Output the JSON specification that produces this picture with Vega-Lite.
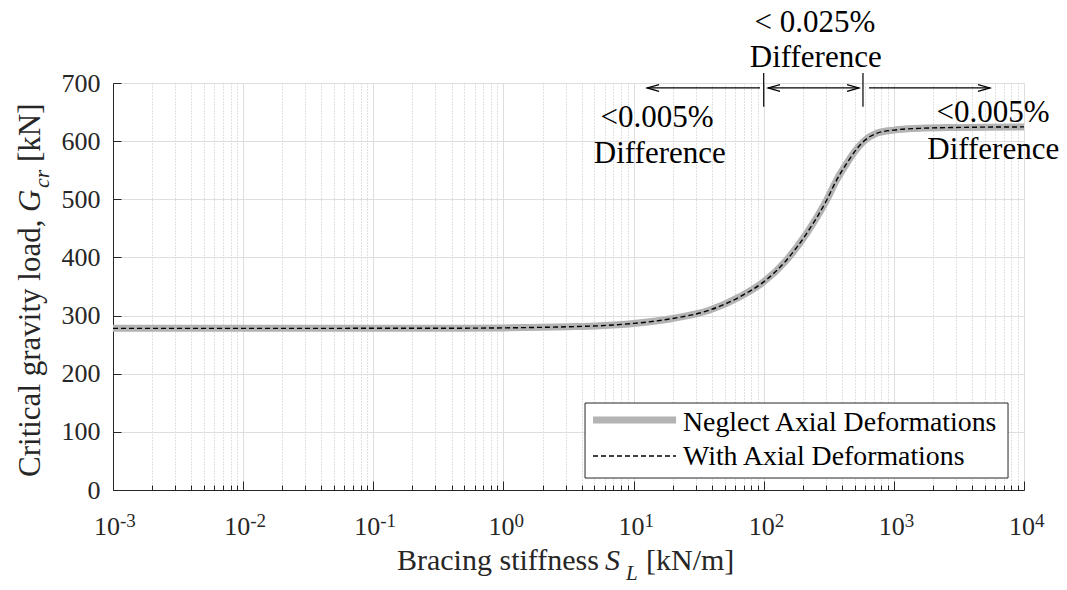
{
  "$schema": "https://vega.github.io/schema/vega-lite/v6.json",
  "width": 911,
  "height": 407,
  "autosize": {"type": "none"},
  "padding": {"left": 113, "top": 83, "right": 43, "bottom": 100},
  "background": "white",
  "config": {"view": {"stroke": null}, "font": "Liberation Serif"},
  "resolve": {"axis": {"x": "independent", "y": "independent"}},
  "layer": [
    {
      "data": {"name": "curve", "values": [
        {"S": 0.001, "neglect": 278, "with": 278},
        {"S": 0.01, "neglect": 278, "with": 278},
        {"S": 0.1, "neglect": 278.1, "with": 278.1},
        {"S": 0.5, "neglect": 278.3, "with": 278.3},
        {"S": 1, "neglect": 278.8, "with": 278.8},
        {"S": 2, "neglect": 279.8, "with": 279.8},
        {"S": 3.2, "neglect": 280.8, "with": 280.8},
        {"S": 5.5, "neglect": 282.5, "with": 282.5},
        {"S": 10, "neglect": 286.5, "with": 286.5},
        {"S": 20, "neglect": 295, "with": 295},
        {"S": 38.6, "neglect": 309.6, "with": 309.6},
        {"S": 65.8, "neglect": 332.5, "with": 332.5},
        {"S": 100, "neglect": 358, "with": 358},
        {"S": 150, "neglect": 395.6, "with": 395.6},
        {"S": 214, "neglect": 441.5, "with": 441.5},
        {"S": 305, "neglect": 498.8, "with": 498.8},
        {"S": 363, "neglect": 533, "with": 533},
        {"S": 435, "neglect": 562, "with": 562},
        {"S": 500, "neglect": 582, "with": 582},
        {"S": 582, "neglect": 599, "with": 599},
        {"S": 738, "neglect": 613.5, "with": 613.5},
        {"S": 1000, "neglect": 619, "with": 619},
        {"S": 1585, "neglect": 622, "with": 622},
        {"S": 3000, "neglect": 623.5, "with": 623.5},
        {"S": 10000, "neglect": 624.5, "with": 624.5}
      ]},
      "mark": {"type": "line", "interpolate": "monotone", "stroke": "#b3b3b3", "strokeWidth": 7},
      "encoding": {
        "x": {"field": "S", "type": "quantitative",
          "scale": {"type": "log", "domain": [0.001, 10000], "nice": false},
          "axis": {"orient": "bottom", "values": [0.002,0.003,0.004,0.005,0.006,0.007,0.008,0.009,0.02,0.03,0.04,0.05,0.06,0.07,0.08,0.09,0.2,0.3,0.4,0.5,0.6,0.7,0.8,0.9,2,3,4,5,6,7,8,9,20,30,40,50,60,70,80,90,200,300,400,500,600,700,800,900,2000,3000,4000,5000,6000,7000,8000,9000],
            "grid": true, "gridColor": "#c2c2c2", "gridDash": [1, 2], "gridWidth": 1,
            "ticks": true, "tickSize": -5, "tickColor": "#262626", "labels": false, "domain": false, "title": null}},
        "y": {"field": "neglect", "type": "quantitative",
          "scale": {"domain": [0, 700], "nice": false, "zero": false},
          "axis": {"orient": "left", "values": [0,100,200,300,400,500,600,700], "format": "d",
            "grid": true, "gridColor": "#dedede", "gridWidth": 1,
            "ticks": true, "tickSize": -8, "tickColor": "#262626", "domain": true, "domainColor": "#262626",
            "labels": true, "labelFont": "Liberation Serif", "labelFontSize": 26, "labelColor": "#262626", "labelPadding": 21, "title": null}}
      }
    },
    {
      "data": {"name": "curve"},
      "mark": {"type": "line", "interpolate": "monotone", "stroke": "#000000", "strokeWidth": 1.4, "strokeDash": [5, 3]},
      "encoding": {
        "x": {"field": "S", "type": "quantitative",
          "scale": {"type": "log", "domain": [0.001, 10000], "nice": false},
          "axis": {"orient": "bottom", "values": [0.001,0.01,0.1,1,10,100,1000,10000],
            "grid": true, "gridColor": "#dedede", "gridWidth": 1,
            "tickSize": -9, "tickColor": "#262626", "labels": false, "domain": true, "domainColor": "#262626", "title": null}},
        "y": {"field": "with", "type": "quantitative", "scale": {"domain": [0, 700], "nice": false, "zero": false}, "axis": null}
      }
    },
    {
      "data": {"values": [
        {"x1": 12.7, "x2": 93.7, "y": 691.5},
        {"x1": 108, "x2": 540, "y": 691.5},
        {"x1": 644, "x2": 5480, "y": 691.5}
      ]},
      "mark": {"type": "rule", "stroke": "#000000", "strokeWidth": 1.2},
      "encoding": {
        "x": {"field": "x1", "type": "quantitative", "scale": {"type": "log", "domain": [0.001, 10000], "nice": false}, "axis": null},
        "x2": {"field": "x2"},
        "y": {"field": "y", "type": "quantitative", "scale": {"domain": [0, 700], "nice": false, "zero": false}, "axis": null}
      }
    },
    {
      "data": {"values": [
        {"x": 100, "y1": 659, "y2": 717},
        {"x": 579, "y1": 659, "y2": 717}
      ]},
      "mark": {"type": "rule", "stroke": "#000000", "strokeWidth": 1.2},
      "encoding": {
        "x": {"field": "x", "type": "quantitative", "scale": {"type": "log", "domain": [0.001, 10000], "nice": false}, "axis": null},
        "y": {"field": "y1", "type": "quantitative", "scale": {"domain": [0, 700], "nice": false, "zero": false}, "axis": null},
        "y2": {"field": "y2"}
      }
    },
    {
      "data": {"values": [
        {"x": 12.7, "y": 691.5, "d": "L"},
        {"x": 108, "y": 691.5, "d": "L"},
        {"x": 540, "y": 691.5, "d": "R"},
        {"x": 5480, "y": 691.5, "d": "R"}
      ]},
      "mark": {"type": "point", "filled": false, "stroke": "#000000", "strokeWidth": 1.2, "size": 576, "opacity": 1},
      "encoding": {
        "x": {"field": "x", "type": "quantitative", "scale": {"type": "log", "domain": [0.001, 10000], "nice": false}, "axis": null},
        "y": {"field": "y", "type": "quantitative", "scale": {"domain": [0, 700], "nice": false, "zero": false}, "axis": null},
        "shape": {"field": "d", "type": "nominal", "scale": {"domain": ["L", "R"], "range": ["M1,-0.28L0,0L1,0.28", "M-1,-0.28L0,0L-1,0.28"]}, "legend": null}
      }
    },
    {
      "data": {"values": [
        {"label": "< 0.025%", "x": 247.7, "y": 787.7},
        {"label": "Difference", "x": 251, "y": 727.5},
        {"label": "<0.005%", "x": 15.14, "y": 624.4},
        {"label": "Difference", "x": 15.9, "y": 562.4},
        {"label": "<0.005%", "x": 5781, "y": 633},
        {"label": "Difference", "x": 5800, "y": 569}
      ]},
      "mark": {"type": "text", "font": "Liberation Serif", "fontSize": 31, "color": "#000000", "align": "center", "baseline": "alphabetic"},
      "encoding": {
        "x": {"field": "x", "type": "quantitative", "scale": {"type": "log", "domain": [0.001, 10000], "nice": false}, "axis": null},
        "y": {"field": "y", "type": "quantitative", "scale": {"domain": [0, 700], "nice": false, "zero": false}, "axis": null},
        "text": {"field": "label"}
      }
    },
    {
      "data": {"values": [{"x1": 4.236, "x2": 7538, "y1": 20.6, "y2": 149.6}]},
      "mark": {"type": "rect", "fill": "#ffffff", "stroke": "#262626", "strokeWidth": 1},
      "encoding": {
        "x": {"field": "x1", "type": "quantitative", "scale": {"type": "log", "domain": [0.001, 10000], "nice": false}, "axis": null},
        "x2": {"field": "x2"},
        "y": {"field": "y1", "type": "quantitative", "scale": {"domain": [0, 700], "nice": false, "zero": false}, "axis": null},
        "y2": {"field": "y2"}
      }
    },
    {
      "data": {"values": [{"x1": 4.88, "x2": 21.2, "y": 120.4}]},
      "mark": {"type": "rule", "stroke": "#b3b3b3", "strokeWidth": 7},
      "encoding": {
        "x": {"field": "x1", "type": "quantitative", "scale": {"type": "log", "domain": [0.001, 10000], "nice": false}, "axis": null},
        "x2": {"field": "x2"},
        "y": {"field": "y", "type": "quantitative", "scale": {"domain": [0, 700], "nice": false, "zero": false}, "axis": null}
      }
    },
    {
      "data": {"values": [{"x1": 4.88, "x2": 21.2, "y": 58.5}]},
      "mark": {"type": "rule", "stroke": "#000000", "strokeWidth": 1.4, "strokeDash": [5, 3]},
      "encoding": {
        "x": {"field": "x1", "type": "quantitative", "scale": {"type": "log", "domain": [0.001, 10000], "nice": false}, "axis": null},
        "x2": {"field": "x2"},
        "y": {"field": "y", "type": "quantitative", "scale": {"domain": [0, 700], "nice": false, "zero": false}, "axis": null}
      }
    },
    {
      "data": {"values": [
        {"label": "Neglect Axial Deformations", "x": 23.99, "y": 101.5},
        {"label": "With Axial Deformations", "x": 23.99, "y": 43}
      ]},
      "mark": {"type": "text", "font": "Liberation Serif", "fontSize": 27.8, "color": "#000000", "align": "left", "baseline": "alphabetic"},
      "encoding": {
        "x": {"field": "x", "type": "quantitative", "scale": {"type": "log", "domain": [0.001, 10000], "nice": false}, "axis": null},
        "y": {"field": "y", "type": "quantitative", "scale": {"domain": [0, 700], "nice": false, "zero": false}, "axis": null},
        "text": {"field": "label"}
      }
    },
    {
      "data": {"values": [
        {"v": 0.001, "base": "10", "e": "-3", "yb": -77.4, "ye": -63.6},
        {"v": 0.01, "base": "10", "e": "-2", "yb": -77.4, "ye": -63.6},
        {"v": 0.1, "base": "10", "e": "-1", "yb": -77.4, "ye": -63.6}
      ]},
      "layer": [
        {
          "mark": {"type": "text", "font": "Liberation Serif", "fontSize": 26, "color": "#262626", "align": "right", "baseline": "alphabetic", "dx": 7},
          "encoding": {
            "x": {"field": "v", "type": "quantitative", "scale": {"type": "log", "domain": [0.001, 10000], "nice": false}, "axis": null},
            "y": {"field": "yb", "type": "quantitative", "scale": {"domain": [0, 700], "nice": false, "zero": false}, "axis": null},
            "text": {"field": "base"}
          }
        },
        {
          "mark": {"type": "text", "font": "Liberation Serif", "fontSize": 19, "color": "#262626", "align": "left", "baseline": "alphabetic", "dx": 7},
          "encoding": {
            "x": {"field": "v", "type": "quantitative", "scale": {"type": "log", "domain": [0.001, 10000], "nice": false}, "axis": null},
            "y": {"field": "ye", "type": "quantitative", "scale": {"domain": [0, 700], "nice": false, "zero": false}, "axis": null},
            "text": {"field": "e"}
          }
        }
      ]
    },
    {
      "data": {"values": [
        {"v": 1, "base": "10", "e": "0", "yb": -77.4, "ye": -63.6},
        {"v": 10, "base": "10", "e": "1", "yb": -77.4, "ye": -63.6},
        {"v": 100, "base": "10", "e": "2", "yb": -77.4, "ye": -63.6},
        {"v": 1000, "base": "10", "e": "3", "yb": -77.4, "ye": -63.6},
        {"v": 10000, "base": "10", "e": "4", "yb": -77.4, "ye": -63.6}
      ]},
      "layer": [
        {
          "mark": {"type": "text", "font": "Liberation Serif", "fontSize": 26, "color": "#262626", "align": "right", "baseline": "alphabetic", "dx": 11},
          "encoding": {
            "x": {"field": "v", "type": "quantitative", "scale": {"type": "log", "domain": [0.001, 10000], "nice": false}, "axis": null},
            "y": {"field": "yb", "type": "quantitative", "scale": {"domain": [0, 700], "nice": false, "zero": false}, "axis": null},
            "text": {"field": "base"}
          }
        },
        {
          "mark": {"type": "text", "font": "Liberation Serif", "fontSize": 19, "color": "#262626", "align": "left", "baseline": "alphabetic", "dx": 11},
          "encoding": {
            "x": {"field": "v", "type": "quantitative", "scale": {"type": "log", "domain": [0.001, 10000], "nice": false}, "axis": null},
            "y": {"field": "ye", "type": "quantitative", "scale": {"domain": [0, 700], "nice": false, "zero": false}, "axis": null},
            "text": {"field": "e"}
          }
        }
      ]
    },
    {
      "data": {"values": [
        {"label": "Bracing stiffness", "x": 0.1521, "y": -137.6},
        {"label": "[kN/m]", "x": 12.46, "y": -137.6}
      ]},
      "mark": {"type": "text", "font": "Liberation Serif", "fontSize": 30, "color": "#262626", "align": "left", "baseline": "alphabetic"},
      "encoding": {
        "x": {"field": "x", "type": "quantitative", "scale": {"type": "log", "domain": [0.001, 10000], "nice": false}, "axis": null},
        "y": {"field": "y", "type": "quantitative", "scale": {"domain": [0, 700], "nice": false, "zero": false}, "axis": null},
        "text": {"field": "label"}
      }
    },
    {
      "data": {"values": [{"label": "S", "x": 6.035, "y": -137.6}]},
      "mark": {"type": "text", "font": "Liberation Serif", "fontSize": 30, "fontStyle": "italic", "color": "#262626", "align": "left", "baseline": "alphabetic"},
      "encoding": {
        "x": {"field": "x", "type": "quantitative", "scale": {"type": "log", "domain": [0.001, 10000], "nice": false}, "axis": null},
        "y": {"field": "y", "type": "quantitative", "scale": {"domain": [0, 700], "nice": false, "zero": false}, "axis": null},
        "text": {"field": "label"}
      }
    },
    {
      "data": {"values": [{"label": "L", "x": 8.75, "y": -154.8}]},
      "mark": {"type": "text", "font": "Liberation Serif", "fontSize": 21, "fontStyle": "italic", "color": "#262626", "align": "left", "baseline": "alphabetic"},
      "encoding": {
        "x": {"field": "x", "type": "quantitative", "scale": {"type": "log", "domain": [0.001, 10000], "nice": false}, "axis": null},
        "y": {"field": "y", "type": "quantitative", "scale": {"domain": [0, 700], "nice": false, "zero": false}, "axis": null},
        "text": {"field": "label"}
      }
    },
    {
      "data": {"values": [
        {"label": "Critical gravity load,", "x": 0.0002748, "y": 22.4},
        {"label": "[kN]", "x": 0.0002748, "y": 564.2}
      ]},
      "mark": {"type": "text", "font": "Liberation Serif", "fontSize": 31, "color": "#262626", "align": "left", "baseline": "alphabetic", "angle": 270},
      "encoding": {
        "x": {"field": "x", "type": "quantitative", "scale": {"type": "log", "domain": [0.001, 10000], "nice": false}, "axis": null},
        "y": {"field": "y", "type": "quantitative", "scale": {"domain": [0, 700], "nice": false, "zero": false}, "axis": null},
        "text": {"field": "label"}
      }
    },
    {
      "data": {"values": [{"label": "G", "x": 0.0002748, "y": 478.2}]},
      "mark": {"type": "text", "font": "Liberation Serif", "fontSize": 31, "fontStyle": "italic", "color": "#262626", "align": "left", "baseline": "alphabetic", "angle": 270},
      "encoding": {
        "x": {"field": "x", "type": "quantitative", "scale": {"type": "log", "domain": [0.001, 10000], "nice": false}, "axis": null},
        "y": {"field": "y", "type": "quantitative", "scale": {"domain": [0, 700], "nice": false, "zero": false}, "axis": null},
        "text": {"field": "label"}
      }
    },
    {
      "data": {"values": [{"label": "cr", "x": 0.0003223, "y": 519.4}]},
      "mark": {"type": "text", "font": "Liberation Serif", "fontSize": 22, "fontStyle": "italic", "color": "#262626", "align": "left", "baseline": "alphabetic", "angle": 270},
      "encoding": {
        "x": {"field": "x", "type": "quantitative", "scale": {"type": "log", "domain": [0.001, 10000], "nice": false}, "axis": null},
        "y": {"field": "y", "type": "quantitative", "scale": {"domain": [0, 700], "nice": false, "zero": false}, "axis": null},
        "text": {"field": "label"}
      }
    }
  ]
}
